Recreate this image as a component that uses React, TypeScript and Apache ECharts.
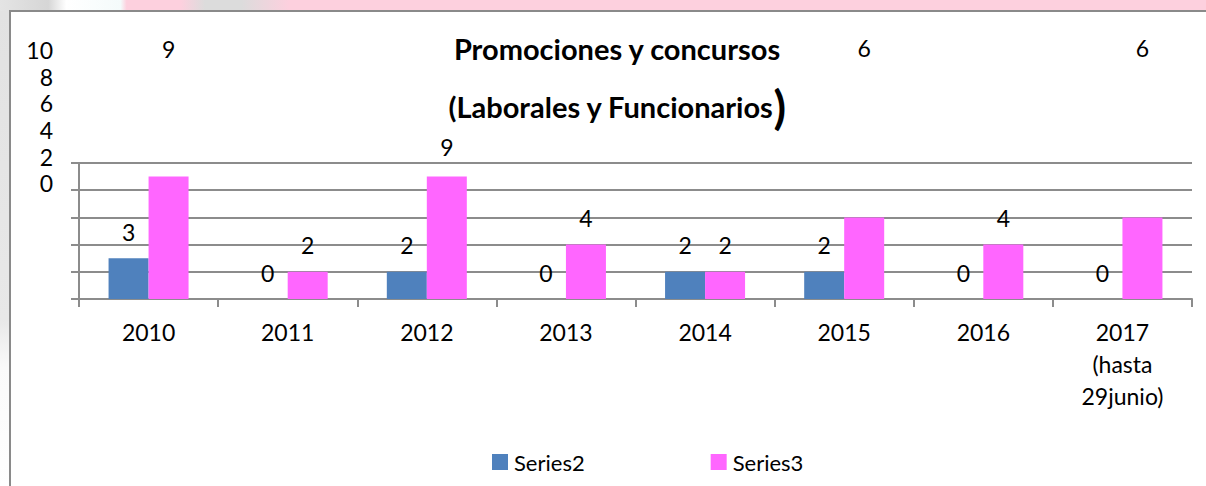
import React, { useEffect, useRef } from 'react';
import * as echarts from 'echarts';

const categories = ['2010', '2011', '2012', '2013', '2014', '2015', '2016', '2017\n(hasta\n29junio)'];
const series2Values = [3, 0, 2, 0, 2, 2, 0, 0];
const series3Values = [9, 2, 9, 4, 2, 6, 4, 6];
const series3LabelShift = [-101, 0, -3, 0, 0, -143, 0, -143];
const yMin = 0;
const yMax = 10;
const yStep = 2;

const FONT = 'Lato, "Noto Sans", sans-serif';
const GRID_COLOR = '#8c8c8c';

export default function App() {
  const ref = useRef<HTMLDivElement>(null);
  useEffect(() => {
    if (!ref.current) return;
    const chart = echarts.init(ref.current, undefined, { renderer: 'svg' });
    const labelBase = {
      show: true,
      position: 'top',
      distance: 15,
      fontSize: 23,
      color: '#000',
      fontFamily: FONT,
    };
    chart.setOption({
      animation: false,
      backgroundColor: '#fff',
      textStyle: { fontFamily: FONT },
      graphic: [
        {
          type: 'rect',
          shape: { x: 0, y: 0, width: 1206, height: 11 },
          style: {
            fill: {
              type: 'linear', x: 0, y: 0, x2: 1, y2: 0,
              colorStops: [
                { offset: 0, color: '#e4e4e4' },
                { offset: 0.04, color: '#d6d6d6' },
                { offset: 0.055, color: '#ffffff' },
                { offset: 0.1, color: '#f4fbfb' },
                { offset: 0.105, color: '#fdd0de' },
                { offset: 0.15, color: '#fdd0de' },
                { offset: 0.17, color: '#dcdcdc' },
                { offset: 0.2, color: '#dcdcdc' },
                { offset: 0.24, color: '#fdd0de' },
                { offset: 1, color: '#fdd0de' },
              ],
            },
          },
          silent: true,
        },
        {
          type: 'rect',
          shape: { x: 0, y: 11, width: 10, height: 475 },
          style: {
            fill: {
              type: 'linear', x: 0, y: 0, x2: 0, y2: 1,
              colorStops: [
                { offset: 0, color: '#e2e2e2' },
                { offset: 0.65, color: '#e8e8e8' },
                { offset: 0.75, color: '#fafafa' },
                { offset: 1, color: '#ffffff' },
              ],
            },
          },
          silent: true,
        },
        {
          type: 'polyline',
          shape: { points: [[10, 486], [10, 11], [1206, 11]] },
          style: { stroke: '#8a8a8a', lineWidth: 2, fill: 'none' },
          silent: true,
        },
      ],
      title: {
        left: 612,
        top: 14,
        textAlign: 'center',
        text: '{t|Promociones y concursos}\n{t|(Laborales y Funcionarios}{p|)}',
        textStyle: {
          rich: {
            t: { fontSize: 29, fontWeight: 'bold', fontFamily: FONT, color: '#000', lineHeight: 58 },
            p: { fontSize: 46, fontWeight: 'bold', fontFamily: FONT, color: '#000', lineHeight: 58 },
          },
        },
      },
      legend: {
        left: 487,
        top: 446,
        itemWidth: 16,
        itemHeight: 16,
        itemGap: 126,
        icon: 'rect',
        textStyle: { fontSize: 22, color: '#000', fontFamily: FONT, padding: [0, 0, 0, 1] },
        data: ['Series2', 'Series3'],
      },
      grid: [
        { left: 79, right: 14, top: 163, bottom: 187, containLabel: false },
        { left: 79, width: 100, top: 50, height: 133.3, containLabel: false },
      ],
      xAxis: [
        {
          type: 'category',
          gridIndex: 0,
          data: categories,
          axisLine: { show: true, lineStyle: { color: GRID_COLOR, width: 2 } },
          axisTick: { show: true, length: 8, lineStyle: { color: GRID_COLOR, width: 2 } },
          axisLabel: {
            interval: 0,
            fontSize: 23,
            lineHeight: 32,
            margin: 17,
            color: '#000',
            fontFamily: FONT,
          },
        },
        { type: 'value', gridIndex: 1, show: false, min: 0, max: 1 },
      ],
      yAxis: [
        {
          type: 'value',
          gridIndex: 0,
          min: yMin,
          max: yMax,
          interval: yStep,
          axisLine: { show: true, lineStyle: { color: GRID_COLOR, width: 2 } },
          axisTick: { show: true, length: 8, lineStyle: { color: GRID_COLOR, width: 2 } },
          axisLabel: { show: false },
          splitLine: { show: true, lineStyle: { color: GRID_COLOR, width: 2 } },
        },
        {
          type: 'value',
          gridIndex: 1,
          min: yMin,
          max: yMax,
          interval: yStep,
          axisLine: { show: false },
          axisTick: { show: false },
          splitLine: { show: false },
          axisLabel: { fontSize: 23, color: '#000', fontFamily: FONT, margin: 26 },
        },
      ],
      series: [
        {
          name: 'Series2',
          type: 'bar',
          xAxisIndex: 0,
          yAxisIndex: 0,
          barWidth: 40,
          barGap: '0%',
          itemStyle: { color: '#4f81bd' },
          label: labelBase,
          data: series2Values,
        },
        {
          name: 'Series3',
          type: 'bar',
          xAxisIndex: 0,
          yAxisIndex: 0,
          barWidth: 40,
          barGap: '0%',
          itemStyle: { color: '#ff66ff' },
          label: labelBase,
          data: series3Values.map((v, i) => ({
            value: v,
            label: { offset: [0, series3LabelShift[i]] },
          })),
        },
      ],
    });
    return () => chart.dispose();
  }, []);
  return (
    <div
      ref={ref}
      style={{ position: 'absolute', left: 0, top: 0, width: 1206, height: 486 }}
    />
  );
}
